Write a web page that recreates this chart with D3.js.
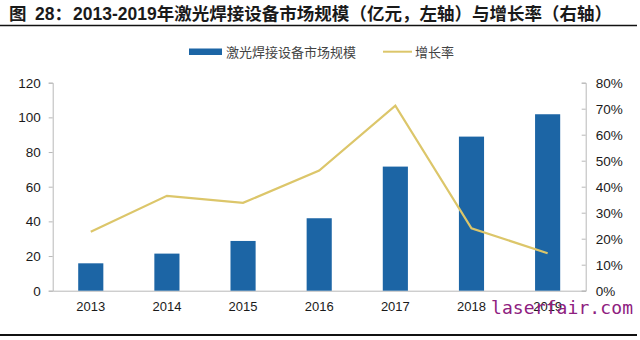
<!DOCTYPE html>
<html><head><meta charset="utf-8">
<script src="https://cdn.jsdelivr.net/npm/d3@7"></script>
<style>body{margin:0;background:#fff;}svg{display:block;}</style>
</head><body>
<script>
const years = ["2013","2014","2015","2016","2017","2018","2019"];
const marketSize = [15.8, 21.4, 28.7, 41.8, 71.6, 88.9, 101.8];
const growthRate = [0.227, 0.365, 0.338, 0.462, 0.712, 0.240, 0.144];
const leftTicks = [0, 20, 40, 60, 80, 100, 120];
const rightTicks = [0, 0.1, 0.2, 0.3, 0.4, 0.5, 0.6, 0.7, 0.8];
const titleParts = ["图", "28：", "2013-2019年激光焊接设备市场规模（亿元，左轴）与增长率（右轴）"];
const legendLabels = ["激光焊接设备市场规模", "增长率"];
const watermark = "laserfair.com";

const W = 640, H = 340;
const barColor = "#1c65a5", lineColor = "#dcc66a", axisColor = "#b8b8b8";
const svg = d3.select("body").append("svg").attr("width", W).attr("height", H);

const x = d3.scaleBand().domain(years).range([52.7, 585.7]).paddingInner(0.67).paddingOuter(0.335);
const yL = d3.scaleLinear().domain([0, 120]).range([290.7, 82.7]);
const yR = d3.scaleLinear().domain([0, 0.8]).range([290.7, 82.7]);

// title
const tt = svg.append("text").attr("y", 19.5)
  .attr("font-family", "Liberation Sans, 'Noto Sans CJK SC', sans-serif")
  .attr("font-weight", "bold").attr("font-size", 17.5).attr("fill", "#1a1a1a");
tt.append("tspan").attr("x", 9).text(titleParts[0]);
tt.append("tspan").attr("x", 35).text(titleParts[1]);
tt.append("tspan").attr("x", 73).attr("textLength", 539).attr("lengthAdjust", "spacing").text(titleParts[2]);
svg.append("line").attr("x1", 0).attr("x2", 637).attr("y1", 25.5).attr("y2", 25.5)
  .attr("stroke", "#111").attr("stroke-width", 1.5);
svg.append("line").attr("x1", 0).attr("x2", 637).attr("y1", 335).attr("y2", 335)
  .attr("stroke", "#111").attr("stroke-width", 2);

// legend
const lg = svg.append("g").attr("font-family", "'Noto Sans CJK SC', sans-serif").attr("font-size", 13).attr("fill", "#444");
lg.append("rect").attr("x", 189).attr("y", 48.5).attr("width", 33).attr("height", 6.5).attr("fill", barColor);
lg.append("text").attr("x", 226).attr("y", 56.5).text(legendLabels[0]);
lg.append("line").attr("x1", 383).attr("x2", 412).attr("y1", 51.7).attr("y2", 51.7).attr("stroke", lineColor).attr("stroke-width", 2);
lg.append("text").attr("x", 415).attr("y", 56.5).text(legendLabels[1]);

// axes
const axFont = "Liberation Sans, Arial, sans-serif";
const gL = svg.append("g").attr("transform", "translate(52.7,0)")
  .call(d3.axisLeft(yL).tickValues(leftTicks).tickSize(4).tickPadding(8));
const gR = svg.append("g").attr("transform", "translate(585.7,0)")
  .call(d3.axisRight(yR).tickValues(rightTicks).tickFormat(d3.format(".0%")).tickSize(-4).tickPadding(10));
const gX = svg.append("g").attr("transform", "translate(0,290.7)")
  .call(d3.axisBottom(x).tickSize(0).tickPadding(11));
[gL, gR, gX].forEach(g => {
  g.selectAll("path").attr("stroke", axisColor);
  g.selectAll("line").attr("stroke", axisColor);
  g.selectAll("text").attr("font-family", axFont).attr("font-size", 13.5).attr("fill", "#1a1a1a");
});
gX.selectAll("text").attr("font-size", 13);

// bars
svg.append("g").selectAll("rect").data(years).join("rect")
  .attr("x", d => x(d)).attr("width", x.bandwidth())
  .attr("y", (d, i) => yL(marketSize[i]))
  .attr("height", (d, i) => yL(0) - yL(marketSize[i]))
  .attr("fill", barColor);

// line
const line = d3.line().x((d, i) => x(years[i]) + x.bandwidth() / 2).y(d => yR(d));
svg.append("path").datum(growthRate).attr("d", line)
  .attr("fill", "none").attr("stroke", lineColor).attr("stroke-width", 2.2);

// watermark
svg.append("text").attr("x", 491).attr("y", 314)
  .attr("font-family", "'DejaVu Sans Mono', 'Liberation Mono', monospace")
  .attr("font-size", 18).attr("textLength", 142).attr("fill", "#8e2080")
  .text(watermark);
</script>
</body></html>
